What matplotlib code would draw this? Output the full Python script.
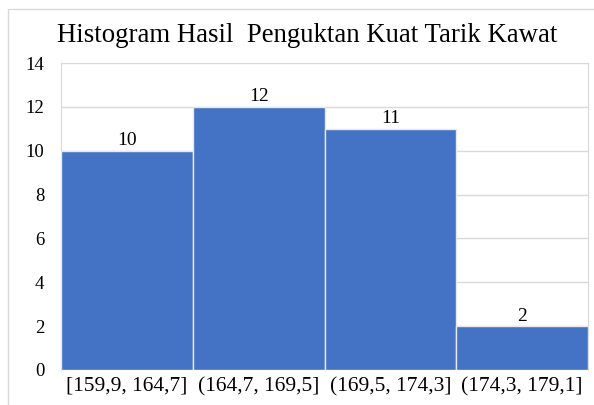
import matplotlib.pyplot as plt
from matplotlib.patches import Rectangle

# data
kelas = ['[159,9, 164,7]', '(164,7, 169,5]', '(169,5, 174,3]', '(174,3, 179,1]']
frekuensi = [10, 12, 11, 2]

plt.rcParams['font.family'] = ['Liberation Serif', 'DejaVu Serif']

fig = plt.figure(figsize=(5.94, 4.05), dpi=100)
fig.patches.append(Rectangle((8 / 594, -0.1), 1.2, 1.1 - 9 / 405, transform=fig.transFigure,
                             fill=False, edgecolor='#d9d9d9', linewidth=1))

ax = fig.add_axes([61 / 594, 35 / 405, 527 / 594, 307 / 405])
x = range(len(kelas))
bars = ax.bar(x, frekuensi, width=1.0, color='#4472c4', edgecolor='#e8e8e8', linewidth=1, zorder=3)
ax.bar_label(bars, padding=1, fontsize=14)

ax.set_xlim(-0.5, len(kelas) - 0.5)
ax.set_ylim(0, 14)
ax.set_yticks(range(0, 15, 2))
ax.set_xticks(list(x))
ax.set_xticklabels(kelas, fontsize=15.5)
ax.tick_params(axis='y', labelsize=13.5, length=0, pad=12)
ax.tick_params(axis='x', length=0, pad=5)
ax.grid(axis='y', color='#d9d9d9', linewidth=1, zorder=0)
for s in ax.spines.values():
    s.set_color('#d9d9d9')
ax.spines['bottom'].set_visible(False)

fig.text(307 / 594, 1 - 35 / 405, 'Histogram Hasil  Penguktan Kuat Tarik Kawat',
         ha='center', va='center', fontsize=19.3)

fig.savefig('out.png', dpi=100)
